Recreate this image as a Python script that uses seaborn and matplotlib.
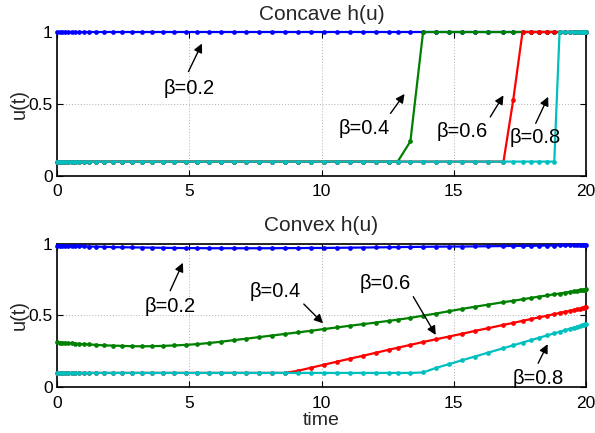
import matplotlib
matplotlib.use("Agg")
import matplotlib.pyplot as plt
import pandas as pd
import seaborn as sns

# ---------------- data ----------------
time = [0, 0.1, 0.2, 0.3, 0.42, 0.55, 0.69, 0.85, 1.02, 1.22,
        1.47, 1.77, 2.1, 2.45, 2.82, 3.2, 3.6, 4.01, 4.43, 4.86,
        5.3, 5.75, 6.21, 6.68, 7.16, 7.64, 8.13, 8.62, 9.11, 9.6,
        10.09, 10.58, 11.07, 11.56, 12.05, 12.54, 12.88, 13.36, 13.84, 14.33,
        14.82, 15.31, 15.8, 16.3, 16.88, 17.25, 17.6, 17.93, 18.24, 18.53,
        18.8, 19.0, 19.2, 19.38, 19.53, 19.66, 19.77, 19.86, 19.93, 19.98,
        20]

beta_labels = ["β=0.2", "β=0.4", "β=0.6", "β=0.8"]

concave_b02 = [1.0, 1.0, 1.0, 1.0, 1.0, 1.0, 1.0, 1.0, 1.0, 1.0,
               1.0, 1.0, 1.0, 1.0, 1.0, 1.0, 1.0, 1.0, 1.0, 1.0,
               1.0, 1.0, 1.0, 1.0, 1.0, 1.0, 1.0, 1.0, 1.0, 1.0,
               1.0, 1.0, 1.0, 1.0, 1.0, 1.0, 1.0, 1.0, 1.0, 1.0,
               1.0, 1.0, 1.0, 1.0, 1.0, 1.0, 1.0, 1.0, 1.0, 1.0,
               1.0, 1.0, 1.0, 1.0, 1.0, 1.0, 1.0, 1.0, 1.0, 1.0,
               1.0]
concave_b04 = [0.1, 0.1, 0.1, 0.1, 0.1, 0.1, 0.1, 0.1, 0.1, 0.1,
               0.1, 0.1, 0.1, 0.1, 0.1, 0.1, 0.1, 0.1, 0.1, 0.1,
               0.1, 0.1, 0.1, 0.1, 0.1, 0.1, 0.1, 0.1, 0.1, 0.1,
               0.1, 0.1, 0.1, 0.1, 0.1, 0.1, 0.1, 0.24, 1.0, 1.0,
               1.0, 1.0, 1.0, 1.0, 1.0, 1.0, 1.0, 1.0, 1.0, 1.0,
               1.0, 1.0, 1.0, 1.0, 1.0, 1.0, 1.0, 1.0, 1.0, 1.0,
               1.0]
concave_b06 = [0.1, 0.1, 0.1, 0.1, 0.1, 0.1, 0.1, 0.1, 0.1, 0.1,
               0.1, 0.1, 0.1, 0.1, 0.1, 0.1, 0.1, 0.1, 0.1, 0.1,
               0.1, 0.1, 0.1, 0.1, 0.1, 0.1, 0.1, 0.1, 0.1, 0.1,
               0.1, 0.1, 0.1, 0.1, 0.1, 0.1, 0.1, 0.1, 0.1, 0.1,
               0.1, 0.1, 0.1, 0.1, 0.1, 0.53, 1.0, 1.0, 1.0, 1.0,
               1.0, 1.0, 1.0, 1.0, 1.0, 1.0, 1.0, 1.0, 1.0, 1.0,
               1.0]
concave_b08 = [0.1, 0.1, 0.1, 0.1, 0.1, 0.1, 0.1, 0.1, 0.1, 0.1,
               0.1, 0.1, 0.1, 0.1, 0.1, 0.1, 0.1, 0.1, 0.1, 0.1,
               0.1, 0.1, 0.1, 0.1, 0.1, 0.1, 0.1, 0.1, 0.1, 0.1,
               0.1, 0.1, 0.1, 0.1, 0.1, 0.1, 0.1, 0.1, 0.1, 0.1,
               0.1, 0.1, 0.1, 0.1, 0.1, 0.1, 0.1, 0.1, 0.1, 0.1,
               0.1, 1.0, 1.0, 1.0, 1.0, 1.0, 1.0, 1.0, 1.0, 1.0,
               1.0]

convex_b02 = [0.985, 0.985, 0.984, 0.984, 0.983, 0.983, 0.982, 0.981, 0.980, 0.979,
              0.978, 0.977, 0.975, 0.974, 0.973, 0.972, 0.971, 0.970, 0.969, 0.968,
              0.968, 0.967, 0.967, 0.967, 0.967, 0.967, 0.967, 0.968, 0.968, 0.969,
              0.969, 0.970, 0.971, 0.972, 0.973, 0.974, 0.975, 0.976, 0.977, 0.978,
              0.979, 0.979, 0.980, 0.981, 0.982, 0.983, 0.983, 0.984, 0.985, 0.986,
              0.986, 0.987, 0.987, 0.988, 0.988, 0.989, 0.989, 0.989, 0.990, 0.990,
              0.990]
convex_b04 = [0.313, 0.311, 0.310, 0.309, 0.307, 0.306, 0.304, 0.302, 0.300, 0.298,
              0.295, 0.292, 0.290, 0.288, 0.286, 0.285, 0.286, 0.288, 0.291, 0.295,
              0.300, 0.308, 0.317, 0.328, 0.338, 0.349, 0.360, 0.371, 0.382, 0.393,
              0.405, 0.416, 0.428, 0.439, 0.450, 0.462, 0.470, 0.483, 0.498, 0.513,
              0.529, 0.545, 0.560, 0.575, 0.592, 0.602, 0.612, 0.622, 0.631, 0.639,
              0.647, 0.652, 0.658, 0.663, 0.667, 0.671, 0.674, 0.677, 0.679, 0.680,
              0.681]
convex_b06 = [0.1, 0.1, 0.1, 0.1, 0.1, 0.1, 0.1, 0.1, 0.1, 0.1,
              0.1, 0.1, 0.1, 0.1, 0.1, 0.1, 0.1, 0.1, 0.1, 0.1,
              0.1, 0.1, 0.1, 0.1, 0.1, 0.1, 0.1, 0.1, 0.115, 0.136,
              0.157, 0.178, 0.199, 0.219, 0.240, 0.261, 0.275, 0.295, 0.315, 0.334,
              0.353, 0.372, 0.392, 0.411, 0.434, 0.448, 0.462, 0.475, 0.487, 0.498,
              0.509, 0.517, 0.525, 0.532, 0.538, 0.543, 0.547, 0.550, 0.553, 0.555,
              0.556]
convex_b08 = [0.1, 0.1, 0.1, 0.1, 0.1, 0.1, 0.1, 0.1, 0.1, 0.1,
              0.1, 0.1, 0.1, 0.1, 0.1, 0.1, 0.1, 0.1, 0.1, 0.1,
              0.1, 0.1, 0.1, 0.1, 0.1, 0.1, 0.1, 0.1, 0.1, 0.1,
              0.1, 0.1, 0.1, 0.1, 0.1, 0.1, 0.1, 0.1, 0.103, 0.135,
              0.161, 0.188, 0.214, 0.241, 0.272, 0.292, 0.311, 0.329, 0.345, 0.361,
              0.375, 0.386, 0.397, 0.407, 0.415, 0.422, 0.428, 0.433, 0.436, 0.439,
              0.440]

panel_titles = ["Concave h(u)", "Convex h(u)"]
x_ticks = [0, 5, 10, 15, 20]
x_tick_labels = ["0", "5", "10", "15", "20"]
y_ticks = [0, 0.5, 1]
y_tick_labels = ["0", "0.5", "1"]
y_label = "u(t)"
x_label = "time"

# ---------------- style ----------------
colors = ["#0000ff", "#008000", "#ff0000", "#00bfbf"]

# annotation placement: (text xy, arrow tail, arrow head) in data coords
top_annot = [((4.98, 0.61), (4.97, 0.725), (5.48, 0.92)),
             ((11.6, 0.33), (12.61, 0.435), (13.14, 0.57)),
             ((15.33, 0.31), (16.38, 0.41), (16.88, 0.56)),
             ((18.1, 0.27), (18.1, 0.366), (18.57, 0.55))]
bot_annot = [((4.28, 0.565), (4.28, 0.672), (4.76, 0.866)),
             ((8.26, 0.665), (9.33, 0.579), (10.06, 0.445)),
             ((12.42, 0.723), (13.47, 0.63), (14.32, 0.364)),
             ((18.2, 0.063), (18.19, 0.167), (18.55, 0.30))]

sns.set_theme(style="white")
plt.rcParams["font.family"] = ["Liberation Sans", "DejaVu Sans"]

W, H = 595, 433
fig = plt.figure(figsize=(W / 100, H / 100), dpi=100)
fig.patch.set_facecolor("white")
ax_top = fig.add_axes([57 / W, 1 - 176 / H, 529 / W, 144 / H])
ax_bot = fig.add_axes([57 / W, 1 - 387.3 / H, 529 / W, 143.8 / H])


def long_df(series):
    rows = []
    for lab, vals in zip(beta_labels, series):
        for t, u in zip(time, vals):
            rows.append({"t": t, "u": u, "beta": lab})
    return pd.DataFrame(rows)


panels = [
    (ax_top, [concave_b02, concave_b04, concave_b06, concave_b08], top_annot, panel_titles[0]),
    (ax_bot, [convex_b02, convex_b04, convex_b06, convex_b08], bot_annot, panel_titles[1]),
]

for ax, series, annots, title in panels:
    df = long_df(series)
    sns.lineplot(data=df, x="t", y="u", hue="beta", hue_order=beta_labels,
                 palette=colors, estimator=None, sort=False, legend=False,
                 marker="o", markersize=3.4, markeredgewidth=0,
                 linewidth=1.6, clip_on=False, zorder=3, ax=ax)
    ax.set_xlim(0, 20)
    ax.set_ylim(0, 1)
    ax.set_xticks(x_ticks)
    ax.set_xticklabels(x_tick_labels)
    ax.set_yticks(y_ticks)
    ax.set_yticklabels(y_tick_labels)
    ax.tick_params(axis="both", which="both", direction="in", length=4, width=0.8,
                   top=True, right=True, bottom=True, left=True,
                   labelsize=12.5, colors="black")
    ax.tick_params(axis="x", pad=6)
    ax.tick_params(axis="y", pad=3)
    ax.grid(True, linestyle=(0, (1, 2)), color="#b0b0b0", linewidth=0.7)
    for sp in ax.spines.values():
        sp.set_visible(True)
        sp.set_color("black")
        sp.set_linewidth(1.2)
    ax.set_ylabel(y_label, fontsize=14.5, labelpad=0)
    ax.set_xlabel("")
    ax.set_title(title, fontsize=15, pad=9)
    for lab, (txy, tail, head) in zip(beta_labels, annots):
        ax.annotate("", xy=head, xytext=tail,
                    arrowprops=dict(arrowstyle="-|>", color="black", lw=1.0,
                                    mutation_scale=13, shrinkA=0, shrinkB=0),
                    zorder=5)
        ax.text(txy[0], txy[1], lab, ha="center", va="center", fontsize=14.5,
                color="black", zorder=5)

ax_bot.set_xlabel(x_label, fontsize=14, labelpad=1)

fig.savefig("out.png", dpi=100, facecolor="white")
